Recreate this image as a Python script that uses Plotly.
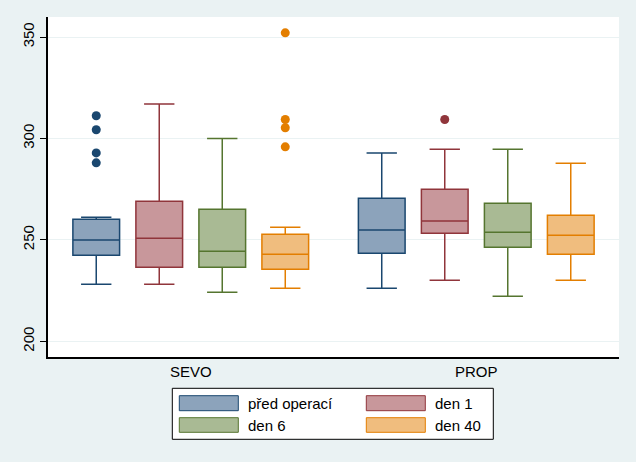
import plotly.graph_objects as go

# skupiny a serie
groups = ["SEVO", "PROP"]
series = ["před operací", "den 1", "den 6", "den 40"]

# statistiky boxu: [SEVO, PROP]
q1 = {
    "před operací": [242.4, 243.4],
    "den 1": [236.5, 253.3],
    "den 6": [236.5, 246.4],
    "den 40": [235.5, 242.9],
}
median = {
    "před operací": [250.0, 254.9],
    "den 1": [250.8, 259.4],
    "den 6": [244.4, 253.8],
    "den 40": [242.9, 252.3],
}
q3 = {
    "před operací": [260.2, 270.6],
    "den 1": [269.1, 275.0],
    "den 6": [265.1, 268.1],
    "den 40": [252.8, 262.2],
}
lower = {
    "před operací": [228.1, 226.2],
    "den 1": [228.1, 230.1],
    "den 6": [224.2, 222.2],
    "den 40": [226.2, 230.1],
}
upper = {
    "před operací": [261.2, 292.8],
    "den 1": [317.0, 294.7],
    "den 6": [300.0, 294.7],
    "den 40": [256.3, 287.8],
}
# odlehle hodnoty: [SEVO list, PROP list]
outliers = {
    "před operací": [[288.0, 292.9, 304.3, 311.2], []],
    "den 1": [[], [309.4]],
    "den 6": [[], []],
    "den 40": [[295.9, 305.3, 309.4, 352.1], []],
}

line_colors = ["#1A476F", "#90353B", "#55752F", "#E37E00"]
fill_colors = ["#8CA3BB", "#C8979B", "#A9BA94", "#F0BD7E"]

BG = "#EAF2F3"
FONT = "Liberation Sans, Arial, sans-serif"
W, H = 636, 462
ML, MR, MT, MB = 48, 17, 17, 105
step = 0.2207
box_w = 0.1636

fig = go.Figure()

for i, name in enumerate(series):
    xs = [g + (i - 1.5) * step for g in range(len(groups))]
    fig.add_trace(go.Box(
        name=name,
        x=xs,
        q1=q1[name],
        median=median[name],
        q3=q3[name],
        lowerfence=lower[name],
        upperfence=upper[name],
        width=box_w,
        whiskerwidth=0.65,
        fillcolor=fill_colors[i],
        line=dict(color=line_colors[i], width=1.5),
        boxpoints=False,
        showlegend=False,
        hoverinfo="skip",
    ))
    ox, oy = [], []
    for g, pts in enumerate(outliers[name]):
        for v in pts:
            ox.append(xs[g])
            oy.append(v)
    if ox:
        fig.add_trace(go.Scatter(
            x=ox, y=oy, mode="markers",
            marker=dict(color=line_colors[i], size=9, symbol="circle"),
            showlegend=False, hoverinfo="skip",
        ))

# legenda ve stylu Staty
pw = W - ML - MR
ph = H - MT - MB


def px(x):
    return (x - ML) / pw


def py(y):
    return (H - MB - y) / ph


shapes = [dict(type="rect", xref="paper", yref="paper",
               x0=px(172.3), x1=px(493.3), y0=py(439.3), y1=py(388.3),
               fillcolor="white", line=dict(color="black", width=1), layer="above")]
annotations = []
col_x = [179.3, 366.3]
row_y = [(395.7, 410.7), (417.7, 432.3)]
for i, name in enumerate(series):
    cx = col_x[i % 2]
    top, bot = row_y[i // 2]
    shapes.append(dict(type="rect", xref="paper", yref="paper",
                       x0=px(cx), x1=px(cx + 59), y0=py(bot), y1=py(top),
                       fillcolor=fill_colors[i],
                       line=dict(color=line_colors[i], width=1), layer="above"))
    annotations.append(dict(xref="paper", yref="paper", x=px(cx + 67), y=py((top + bot) / 2),
                            text=name, showarrow=False, xanchor="left", yanchor="middle",
                            font=dict(size=15, color="black", family=FONT)))

fig.update_layout(
    width=W, height=H,
    margin=dict(l=ML, r=MR, t=MT, b=MB),
    paper_bgcolor=BG,
    plot_bgcolor="white",
    font=dict(family=FONT, size=15, color="black"),
    shapes=shapes,
    annotations=annotations,
    showlegend=False,
)
fig.update_xaxes(
    range=[-0.5, 1.5],
    tickvals=list(range(len(groups))),
    ticktext=groups,
    showgrid=False, zeroline=False,
    showline=True, linecolor="black", linewidth=1.5,
    ticks="", tickfont=dict(size=15),
)
fig.update_yaxes(
    range=[192.3, 359.9],
    tickvals=[200, 250, 300, 350],
    tickangle=-90,
    showgrid=True, gridcolor=BG, gridwidth=1,
    zeroline=False,
    showline=True, linecolor="black", linewidth=1.5,
    ticks="outside", ticklen=6, tickcolor="black",
    tickfont=dict(size=15),
)

# bez okraje stranky, aby graf zacinal v levem hornim rohu
fig.write_html("out.html", config={"displayModeBar": False},
               post_script="document.body.style.margin='0';")
